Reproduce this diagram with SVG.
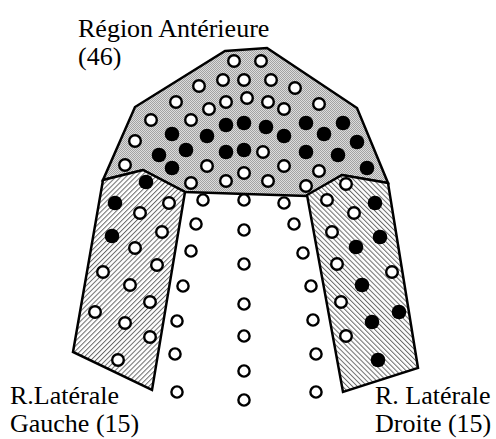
<svg xmlns="http://www.w3.org/2000/svg" width="496" height="439" viewBox="0 0 496 439">
<defs>
<pattern id="stip" width="2" height="2" patternUnits="userSpaceOnUse"><rect width="2" height="2" fill="#dcdcdc"/><rect width="1" height="1" fill="#a2a2a2"/><rect x="1" y="1" width="1" height="1" fill="#a2a2a2"/></pattern>
<pattern id="hatchL" width="3.5" height="3.5" patternUnits="userSpaceOnUse" patternTransform="rotate(45)"><rect width="3.5" height="3.5" fill="#fff"/><line x1="0.5" y1="0" x2="0.5" y2="3.5" stroke="#6a6a6a" stroke-width="1"/></pattern>
<pattern id="hatchR" width="3.5" height="3.5" patternUnits="userSpaceOnUse" patternTransform="rotate(-45)"><rect width="3.5" height="3.5" fill="#fff"/><line x1="0.5" y1="0" x2="0.5" y2="3.5" stroke="#6a6a6a" stroke-width="1"/></pattern>
</defs>
<style>
.reg{stroke:#000;stroke-width:2.5;stroke-linejoin:miter}
.o{fill:#fff;stroke:#000;stroke-width:2.4}
.f{fill:#000}
.lbl{font-family:"Liberation Serif","Times New Roman",serif;font-size:26px;fill:#000}
</style>
<g id="anterior">
<polygon class="reg" fill="url(#stip)" points="225,51 267,48 357,108 388,183 342,175 307,196 185,192 143,170 103,180 135,107"/>
<g>
<circle class="o" cx="234" cy="61" r="5.8"/><circle class="o" cx="261" cy="61" r="5.8"/>
<circle class="o" cx="199" cy="86" r="5.8"/><circle class="o" cx="223" cy="80" r="5.8"/><circle class="o" cx="244" cy="80" r="5.8"/><circle class="o" cx="271" cy="80" r="5.8"/><circle class="o" cx="295" cy="88" r="5.8"/>
<circle class="o" cx="176" cy="102" r="5.8"/><circle class="o" cx="226" cy="102" r="5.8"/><circle class="o" cx="247" cy="98" r="5.8"/><circle class="o" cx="268" cy="102" r="5.8"/><circle class="o" cx="284" cy="109" r="5.8"/><circle class="o" cx="319" cy="104" r="5.8"/><circle class="o" cx="209" cy="109" r="5.8"/>
<circle class="o" cx="151" cy="120" r="5.8"/><circle class="o" cx="191" cy="120" r="5.8"/>
<circle class="o" cx="135" cy="141" r="5.8"/><circle class="o" cx="263" cy="152" r="5.8"/>
<circle class="o" cx="125" cy="165" r="5.8"/><circle class="o" cx="207" cy="166" r="5.8"/><circle class="o" cx="284" cy="166" r="5.8"/><circle class="o" cx="244" cy="173" r="5.8"/><circle class="o" cx="319" cy="171" r="5.8"/>
<circle class="o" cx="191" cy="183" r="5.8"/><circle class="o" cx="226" cy="181" r="5.8"/><circle class="o" cx="268" cy="181" r="5.8"/><circle class="o" cx="306" cy="186" r="5.8"/>
<circle class="f" cx="226" cy="125" r="7.3"/><circle class="f" cx="244" cy="123" r="7.3"/><circle class="f" cx="266" cy="127" r="7.3"/><circle class="f" cx="284" cy="136" r="7.3"/><circle class="f" cx="306" cy="123" r="7.3"/><circle class="f" cx="343" cy="123" r="7.3"/>
<circle class="f" cx="172" cy="134" r="7.3"/><circle class="f" cx="207" cy="136" r="7.3"/><circle class="f" cx="324" cy="134" r="7.3"/><circle class="f" cx="357" cy="142" r="7.3"/>
<circle class="f" cx="159" cy="155" r="7.3"/><circle class="f" cx="186" cy="150" r="7.3"/><circle class="f" cx="226" cy="152" r="7.3"/><circle class="f" cx="244" cy="150" r="7.3"/><circle class="f" cx="306" cy="152" r="7.3"/><circle class="f" cx="338" cy="155" r="7.3"/>
<circle class="f" cx="172" cy="168" r="7.3"/><circle class="f" cx="367" cy="168" r="7.3"/>
</g>
</g>
<g id="lateral-gauche">
<polygon class="reg" fill="url(#hatchL)" points="103,180 143,170 185,192 152,390 73,352"/>
<circle class="f" cx="146" cy="182" r="7.3"/><circle class="f" cx="115" cy="203" r="7.3"/><circle class="f" cx="112" cy="236" r="7.3"/>
<circle class="o" cx="169" cy="203" r="5.8"/><circle class="o" cx="140" cy="213" r="5.8"/><circle class="o" cx="162" cy="232" r="5.8"/><circle class="o" cx="135" cy="248" r="5.8"/>
<circle class="o" cx="103" cy="272" r="5.8"/><circle class="o" cx="157" cy="265" r="5.8"/><circle class="o" cx="130" cy="285" r="5.8"/><circle class="o" cx="150" cy="302" r="5.8"/>
<circle class="o" cx="95" cy="312" r="5.8"/><circle class="o" cx="125" cy="323" r="5.8"/><circle class="o" cx="150" cy="337" r="5.8"/><circle class="o" cx="118" cy="360" r="5.8"/>
</g>
<g id="lateral-droite">
<polygon class="reg" fill="url(#hatchR)" points="307,195 342,175 388,183 418,368 343,392"/>
<circle class="o" cx="346" cy="184" r="5.8"/><circle class="o" cx="327" cy="200" r="5.8"/><circle class="o" cx="354" cy="213" r="5.8"/><circle class="o" cx="332" cy="232" r="5.8"/>
<circle class="o" cx="337" cy="264" r="5.8"/><circle class="o" cx="392" cy="272" r="5.8"/><circle class="o" cx="341" cy="302" r="5.8"/><circle class="o" cx="346" cy="336" r="5.8"/>
<circle class="f" cx="375" cy="203" r="7.3"/><circle class="f" cx="380" cy="237" r="7.3"/><circle class="f" cx="356" cy="247" r="7.3"/><circle class="f" cx="362" cy="285" r="7.3"/>
<circle class="f" cx="399" cy="312" r="7.3"/><circle class="f" cx="372" cy="322" r="7.3"/><circle class="f" cx="378" cy="360" r="7.3"/>
</g>
<g id="central">
<circle class="o" cx="203" cy="200" r="5.6"/><circle class="o" cx="196" cy="224" r="5.6"/><circle class="o" cx="191" cy="251" r="5.6"/><circle class="o" cx="183" cy="286" r="5.6"/><circle class="o" cx="177" cy="321" r="5.6"/><circle class="o" cx="175" cy="354" r="5.6"/><circle class="o" cx="177" cy="392" r="5.6"/>
<circle class="o" cx="244" cy="200" r="5.6"/><circle class="o" cx="244" cy="230" r="5.6"/><circle class="o" cx="244" cy="264" r="5.6"/><circle class="o" cx="244" cy="304" r="5.6"/><circle class="o" cx="244" cy="336" r="5.6"/><circle class="o" cx="244" cy="371" r="5.6"/><circle class="o" cx="244" cy="400" r="5.6"/>
<circle class="o" cx="284" cy="203" r="5.6"/><circle class="o" cx="294" cy="224" r="5.6"/><circle class="o" cx="303" cy="253" r="5.6"/><circle class="o" cx="311" cy="286" r="5.6"/><circle class="o" cx="313" cy="320" r="5.6"/><circle class="o" cx="316" cy="354" r="5.6"/><circle class="o" cx="316" cy="392" r="5.6"/>
</g>
<g id="labels">
<text class="lbl" x="78" y="37">Région Antérieure</text>
<text class="lbl" x="78" y="65">(46)</text>
<text class="lbl" x="10" y="404">R.Latérale</text>
<text class="lbl" x="10" y="432">Gauche (15)</text>
<text class="lbl" x="375" y="404">R. Latérale</text>
<text class="lbl" x="375" y="432">Droite (15)</text>
</g>
</svg>
